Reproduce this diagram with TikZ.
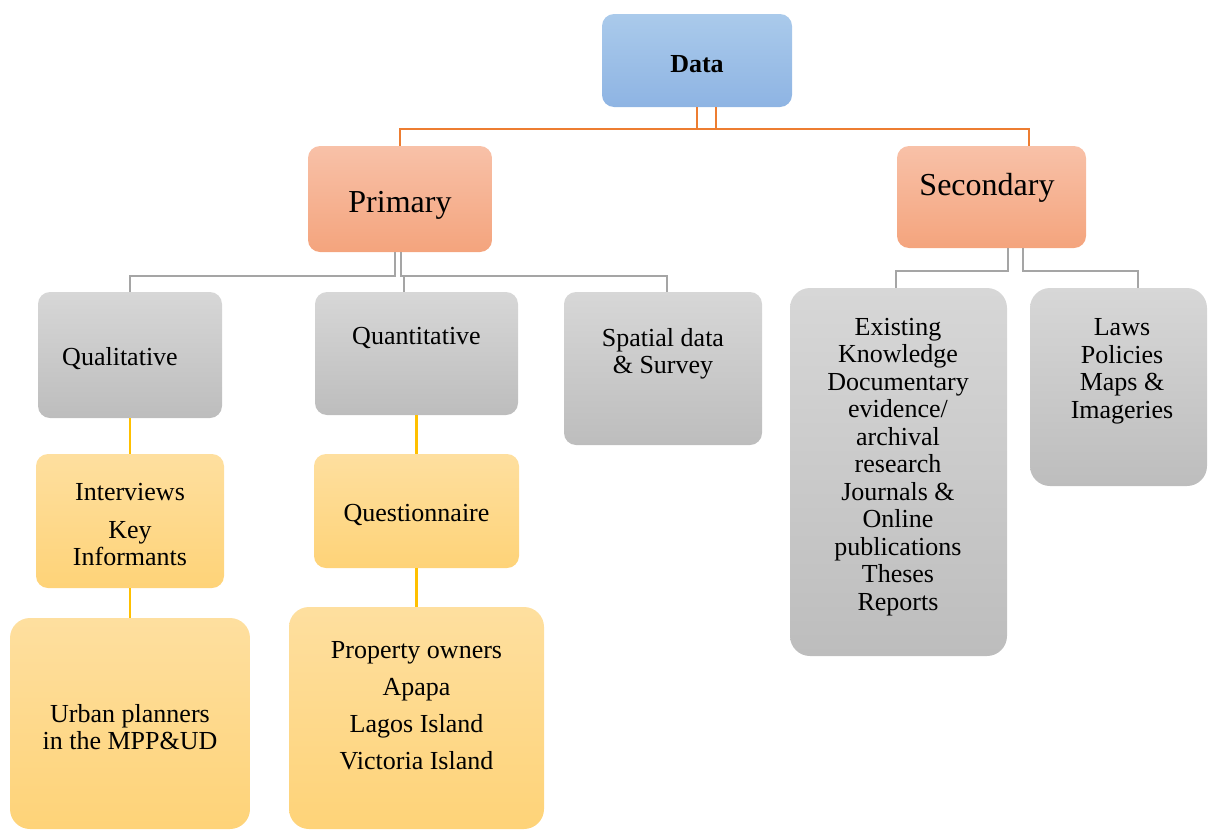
\documentclass[tikz,border=0pt]{standalone}
\usepackage{fontspec}
\setmainfont{Liberation Serif}
\definecolor{blueT}{HTML}{AACAEB}
\definecolor{blueB}{HTML}{8EB4E3}
\definecolor{salT}{HTML}{F8C1A8}
\definecolor{salB}{HTML}{F4A47D}
\definecolor{grayT}{HTML}{D7D7D7}
\definecolor{grayB}{HTML}{BDBDBD}
\definecolor{yelT}{HTML}{FEDF9F}
\definecolor{yelB}{HTML}{FED378}
\definecolor{lnOrange}{HTML}{ED7D31}
\definecolor{lnGray}{HTML}{A5A5A5}
\definecolor{lnYellow}{HTML}{FFC000}
\begin{document}
\begin{tikzpicture}[x=1pt,y=-1pt,
  box/.style={rounded corners=12pt, inner sep=0pt, draw=none},
  bigbox/.style={rounded corners=20pt, inner sep=0pt, draw=none},
  blueshade/.style={top color=blueT, bottom color=blueB},
  salshade/.style={top color=salT, bottom color=salB},
  grayshade/.style={top color=grayT, bottom color=grayB},
  yelshade/.style={top color=yelT, bottom color=yelB},
  txt/.style={align=center, inner sep=0pt, yshift=-3pt, font=\fontsize{26}{27.5}\selectfont},
  bigtxt/.style={align=center, inner sep=0pt, yshift=-4pt, font=\fontsize{32}{36}\selectfont},
  orl/.style={draw=lnOrange, line width=2.2pt},
  grl/.style={draw=lnGray, line width=2.2pt},
  yll/.style={draw=lnYellow, line width=2.2pt}
]
\useasboundingbox (0,0) rectangle (1208,830);
% boxes
\node[box, blueshade, minimum width=190pt, minimum height=93pt] (data) at (697,60.5) {};
\node[box, salshade, minimum width=184pt, minimum height=106pt] (prim) at (400,199) {};
\node[box, salshade, minimum width=189pt, minimum height=102pt] (sec) at (991.5,197) {};
\node[box, grayshade, minimum width=184pt, minimum height=126pt] (qual) at (130,355) {};
\node[box, grayshade, minimum width=203pt, minimum height=123pt] (quant) at (416.5,353.5) {};
\node[box, grayshade, minimum width=198pt, minimum height=153pt] (spat) at (663,368.5) {};
\node[bigbox, grayshade, minimum width=217pt, minimum height=368pt] (exist) at (898.5,472) {};
\node[bigbox, grayshade, minimum width=177pt, minimum height=198pt] (laws) at (1118.5,387) {};
\node[box, yelshade, minimum width=188pt, minimum height=134pt] (intv) at (130,521) {};
\node[box, yelshade, minimum width=205pt, minimum height=114pt] (quest) at (416.5,511) {};
\node[bigbox, yelshade, minimum width=240pt, minimum height=211pt] (urban) at (130,723.5) {};
\node[bigbox, yelshade, minimum width=255pt, minimum height=222pt] (prop) at (416.5,718) {};
% texts
\node[txt, font=\fontsize{26}{27.5}\selectfont\bfseries] (dataT) at (697,61) {Data};
\node[bigtxt] (primT) at (400,201) {Primary};
\node[bigtxt] (secT) at (987,184) {Secondary};
\node[txt] (qualT) at (120,356) {Qualitative};
\node[txt] (quantT) at (416.5,335) {Quantitative};
\node[txt] (spatT) at (663,351) {Spatial data\\\& Survey};
\node[txt] (existT) at (898,464) {Existing\\Knowledge\\Documentary\\evidence/\\archival\\research\\Journals \&\\Online\\publications\\Theses\\Reports};
\node[txt] (lawsT) at (1122,368.5) {Laws\\Policies\\Maps \&\\Imageries};
\node[txt] (intvT) at (130,522) {Interviews\\[10pt]Key\\Informants};
\node[txt] (questT) at (416.5,512) {Questionnaire};
\node[txt] (urbanT) at (130,724) {Urban planners\\in the MPP\&UD};
\node[txt, font=\fontsize{26}{37}\selectfont] (propT) at (416.5,703) {Property owners\\Apapa\\Lagos Island\\Victoria Island};
% orange connectors
\draw[orl] (data.south) -- ++(0,22);
\draw[orl] ([xshift=19pt]data.south) -- ++(0,22);
\draw[orl] (prim.north) -- ++(0,-17) -| ([xshift=37.5pt]sec.north);
% gray connectors from primary
\draw[grl] ([xshift=-5pt]prim.south) -- ++(0,24) -| (qual.north);
\draw[grl] ([xshift=1pt]prim.south) -- ++(0,24) -| ([xshift=4pt]spat.north);
\draw[grl] ([xshift=-12.5pt]quant.north) -- ++(0,-16);
% gray connectors from secondary
\draw[grl] ([xshift=16.5pt]sec.south) -- ++(0,23) -| ([xshift=-2.5pt]exist.north);
\draw[grl] ([xshift=31.5pt]sec.south) -- ++(0,23) -| ([xshift=19.5pt]laws.north);
% yellow connectors
\draw[yll] (qual.south) -- (intv.north);
\draw[yll] (intv.south) -- (urban.north);
\draw[yll] (quant.south) -- (quest.north);
\draw[yll] (quest.south) -- (prop.north);
\end{tikzpicture}
\end{document}
